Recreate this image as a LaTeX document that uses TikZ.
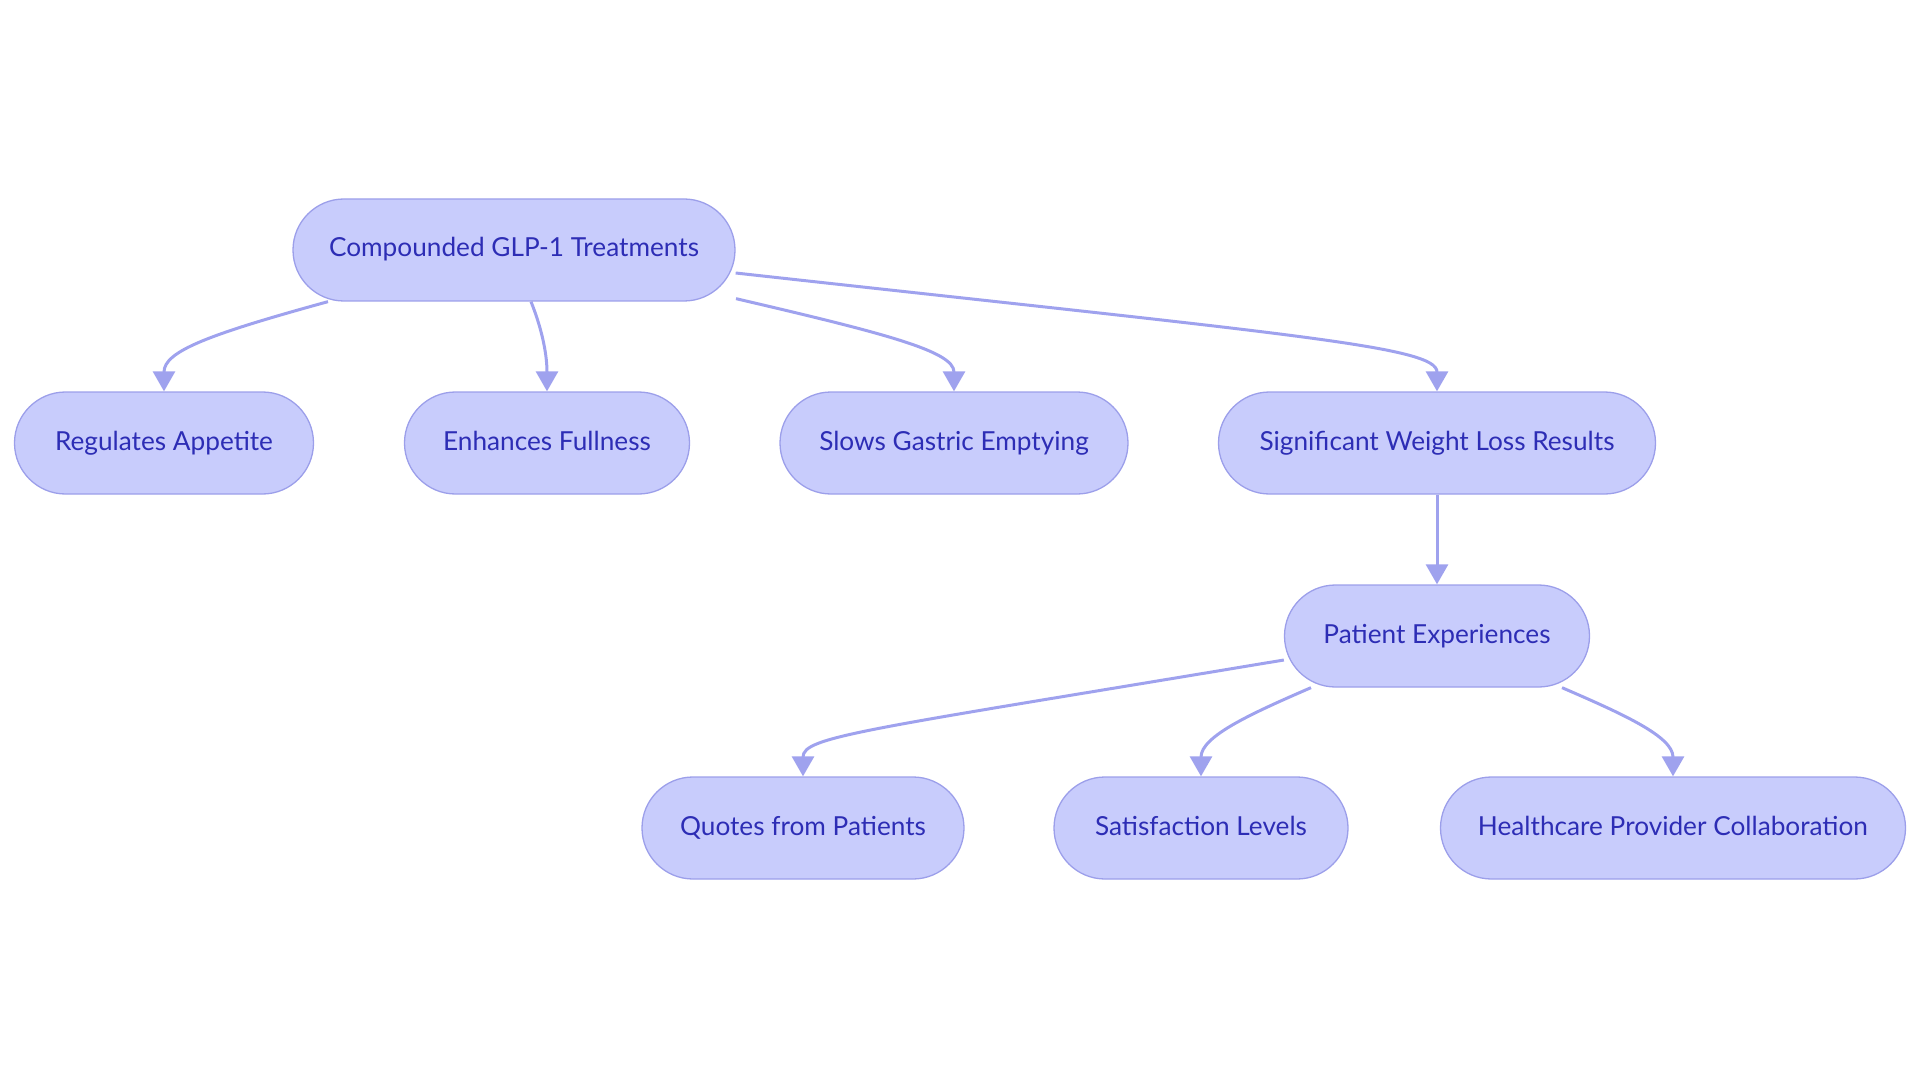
\documentclass[tikz,border=0pt]{standalone}
\usepackage{fontspec}
\setmainfont{Lato}
\usetikzlibrary{arrows.meta}
\definecolor{pillfill}{HTML}{C8CCFC}
\definecolor{pilldraw}{HTML}{9C9FEA}
\definecolor{pilltext}{HTML}{2D2DB5}
\definecolor{linkcol}{HTML}{9FA2EE}
\tikzset{
  pill/.style={draw=pilldraw,fill=pillfill,text=pilltext,line width=1.3pt,rounded corners=51pt,
    minimum height=102pt,inner xsep=20pt,text height=19pt,text depth=5pt,
    font=\fontsize{26.2}{30}\selectfont},
  link/.style={draw=linkcol,line width=3pt,-{Triangle[width=22pt,length=20pt]}}
}
\begin{document}
\begin{tikzpicture}[x=1pt,y=-1pt]
  \useasboundingbox (0,0) rectangle (1920,1083);
  \node[pill,minimum width=442pt] (glp) at (514,250) {Compounded GLP-1 Treatments};
  \node[pill,minimum width=299pt] (appetite) at (164,443) {Regulates Appetite};
  \node[pill,minimum width=285pt] (fullness) at (547,443) {Enhances Fullness};
  \node[pill,minimum width=348pt] (gastric) at (954,443) {Slows Gastric Emptying};
  \node[pill,minimum width=437pt] (weight) at (1437,443) {Significant Weight Loss Results};
  \node[pill,minimum width=305pt] (patient) at (1437,636) {Patient Experiences};
  \node[pill,minimum width=322pt] (quotes) at (803,828) {Quotes from Patients};
  \node[pill,minimum width=294pt] (satisf) at (1201,828) {Satisfaction Levels};
  \node[pill,minimum width=465pt] (provider) at (1673,828) {Healthcare Provider Collaboration};
  % first level
  \draw[link] ([xshift=-186pt]glp.south) .. controls +(-120,33) and +(0,-40) .. (appetite.north);
  \draw[link] ([xshift=17pt]glp.south) .. controls +(12,30) and +(0,-35) .. (fullness.north);
  \draw[link] ([xshift=222pt,yshift=3pt]glp.south) .. controls +(150,35) and +(0,-40) .. (gastric.north);
  \draw[link] ([yshift=-23pt]glp.east) .. controls +(560,62) and +(0,-45) .. (weight.north);
  \draw[link] (weight) -- (patient);
  % second level
  \draw[link] ([yshift=-24pt]patient.west) .. controls +(-420,70) and +(0,-40) .. (quotes.north);
  \draw[link] ([xshift=-126pt]patient.south) .. controls +(-60,26) and +(0,-40) .. (satisf.north);
  \draw[link] ([xshift=125pt]patient.south) .. controls +(60,26) and +(0,-40) .. (provider.north);
\end{tikzpicture}
\end{document}
